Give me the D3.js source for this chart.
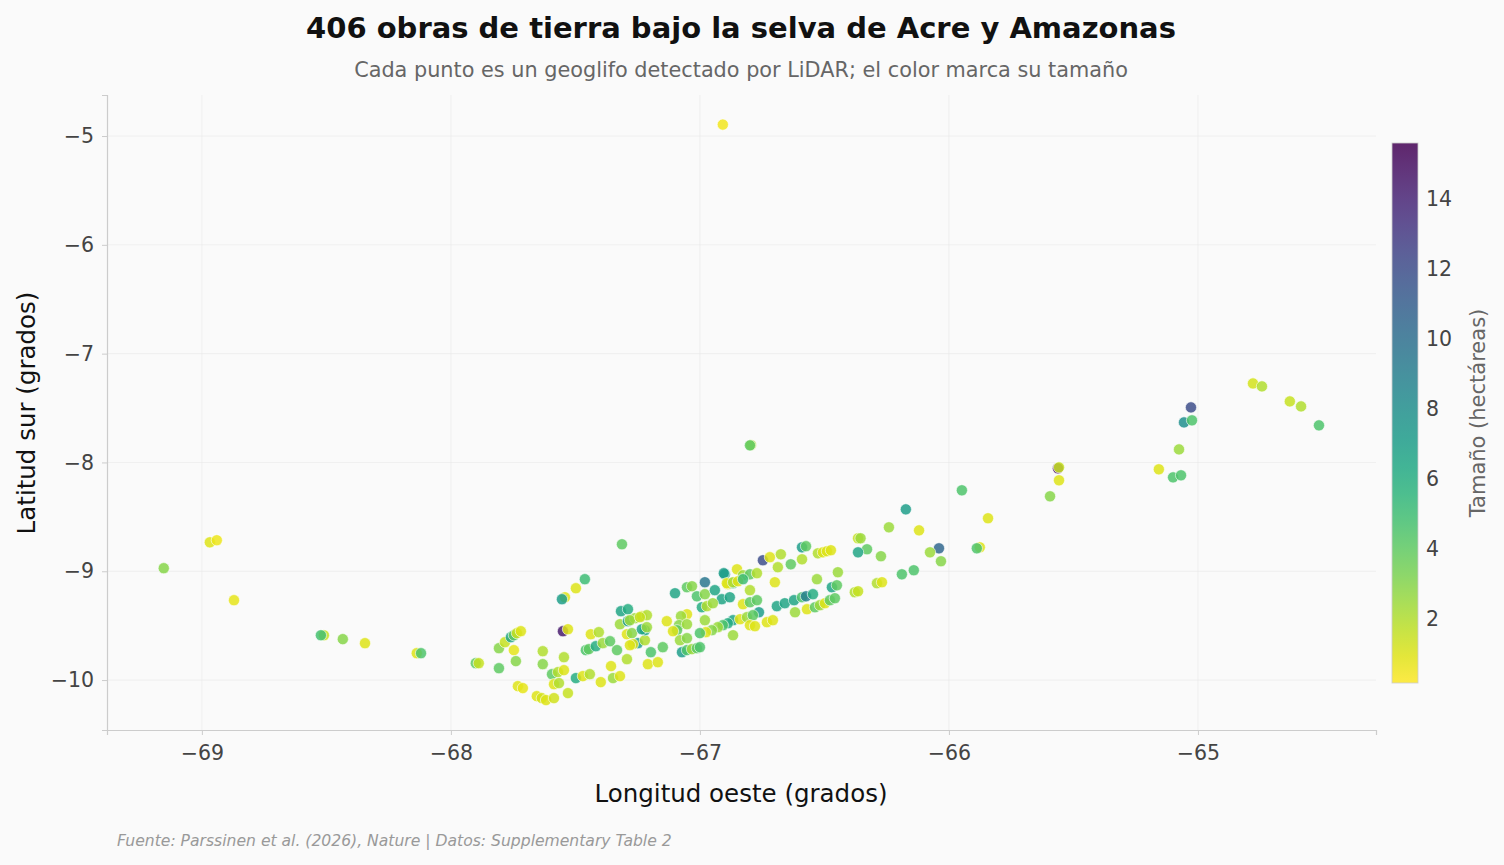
<!DOCTYPE html>
<html><head><meta charset="utf-8">
<script src="https://cdn.jsdelivr.net/npm/d3@7"></script>
<style>html,body{margin:0;padding:0;background:#fafafa;}svg{display:block;font-family:"DejaVu Sans",sans-serif;}</style>
</head><body><svg id="c" width="1504" height="865"></svg>
<script>
// Longitude (degrees), latitude (degrees), size (hectares) for each geoglyph, same order
const lon = [
-69.153,-68.968,-68.940,-68.871,-68.510,-68.522,-68.434,-68.345,-68.137,-68.120,
-67.900,-67.888,-67.807,-67.807,-67.747,-67.739,-67.783,-67.759,-67.747,-67.735,
-67.719,-67.731,-67.711,-67.655,-67.635,-67.618,-67.586,-67.631,-67.631,-67.462,
-67.498,-67.542,-67.554,-67.550,-67.530,-67.438,-67.406,-67.458,-67.446,-67.418,
-67.390,-67.361,-67.333,-67.293,-67.317,-67.289,-67.321,-67.289,-67.261,-67.233,
-67.213,-67.293,-67.273,-67.249,-67.221,-67.221,-67.546,-67.594,-67.570,-67.546,
-67.586,-67.566,-67.530,-67.498,-67.470,-67.442,-67.398,-67.357,-67.349,-67.321,
-67.209,-67.169,-67.100,-67.052,-67.032,-66.980,-67.012,-66.980,-66.940,-66.900,
-66.888,-66.867,-66.912,-66.880,-66.992,-66.972,-66.948,-66.980,-67.052,-67.076,
-67.133,-67.084,-67.052,-67.092,-67.108,-66.867,-66.888,-66.908,-66.928,-66.952,
-66.976,-67.000,-66.867,-67.080,-67.052,-67.072,-67.052,-67.032,-67.012,-67.000,
-67.149,-67.197,-67.281,-67.241,-67.269,-67.281,-67.233,-67.213,-66.590,-66.574,
-66.526,-66.506,-66.490,-66.474,-66.747,-66.719,-66.675,-66.590,-66.635,-66.687,
-66.851,-66.904,-66.827,-66.799,-66.771,-66.892,-66.867,-66.847,-66.827,-66.699,
-66.530,-66.446,-66.799,-66.827,-66.799,-66.771,-66.763,-66.691,-66.659,-66.622,
-66.590,-66.574,-66.546,-66.470,-66.450,-66.618,-66.570,-66.538,-66.518,-66.498,
-66.478,-66.458,-66.839,-66.811,-66.787,-66.731,-66.707,-66.799,-66.779,-66.241,
-66.365,-66.355,-66.329,-66.365,-66.273,-66.378,-66.365,-66.289,-66.269,-66.189,
-66.141,-65.948,-66.173,-65.843,-66.120,-66.040,-66.076,-66.032,-65.876,-65.888,
-64.779,-64.743,-64.631,-64.586,-64.514,-65.028,-65.056,-65.024,-65.076,-65.157,
-65.100,-65.068,-65.562,-65.558,-65.558,-65.594,-66.908,-66.795,-66.799,-67.313
];
const lat = [
-8.972,-8.734,-8.715,-9.266,-9.588,-9.588,-9.624,-9.661,-9.753,-9.753,
-9.845,-9.845,-9.707,-9.891,-9.725,-9.826,-9.652,-9.606,-9.588,-9.569,
-9.551,-10.056,-10.074,-10.148,-10.166,-10.184,-10.166,-9.735,-9.854,-9.073,
-9.156,-9.239,-9.257,-9.551,-9.533,-9.579,-9.560,-9.725,-9.716,-9.689,
-9.661,-9.643,-9.725,-9.808,-9.367,-9.349,-9.487,-9.459,-9.432,-9.413,
-9.404,-9.579,-9.569,-9.661,-9.634,-9.542,-9.790,-9.946,-9.927,-9.909,
-10.038,-10.028,-10.120,-9.982,-9.964,-9.946,-10.019,-9.872,-9.982,-9.964,
-9.854,-9.836,-9.202,-9.147,-9.138,-9.101,-9.230,-9.211,-9.174,-9.028,
-9.119,-9.110,-9.257,-9.239,-9.331,-9.321,-9.294,-9.450,-9.395,-9.413,
-9.459,-9.496,-9.487,-9.542,-9.551,-9.450,-9.478,-9.496,-9.514,-9.542,
-9.560,-9.569,-9.588,-9.634,-9.615,-9.744,-9.725,-9.716,-9.707,-9.698,
-9.698,-9.744,-9.450,-9.422,-9.670,-9.680,-9.533,-9.514,-8.780,-8.770,
-8.835,-8.826,-8.816,-8.807,-8.899,-8.871,-8.844,-8.890,-8.936,-8.963,
-8.982,-9.018,-9.037,-9.028,-9.018,-9.110,-9.101,-9.092,-9.073,-9.101,
-9.073,-9.009,-9.174,-9.303,-9.285,-9.266,-9.377,-9.321,-9.294,-9.266,
-9.239,-9.230,-9.211,-9.147,-9.129,-9.377,-9.349,-9.331,-9.312,-9.294,
-9.266,-9.248,-9.441,-9.422,-9.404,-9.468,-9.450,-9.496,-9.505,-8.596,
-8.697,-8.697,-8.798,-8.826,-8.862,-9.193,-9.184,-9.110,-9.101,-9.028,
-8.991,-8.256,-8.431,-8.513,-8.624,-8.789,-8.826,-8.908,-8.780,-8.789,
-7.274,-7.301,-7.439,-7.485,-7.659,-7.494,-7.632,-7.613,-7.880,-8.063,
-8.137,-8.118,-8.054,-8.045,-8.164,-8.311,-4.895,-7.840,-7.843,-8.752
];
const area = [
3.0,1.0,0.6,0.8,1.5,4.8,3.0,1.0,1.0,4.5,
4.0,1.5,3.0,4.0,0.8,3.0,1.5,6.5,4.0,1.5,
1.0,1.0,0.8,1.0,1.2,1.0,1.3,2.0,3.0,5.0,
1.0,1.0,7.0,14.5,1.0,1.0,2.0,4.5,4.0,6.0,
2.5,4.0,4.0,2.0,6.5,6.0,2.5,7.0,2.5,1.0,
2.0,1.0,3.0,7.0,2.0,6.5,2.0,4.0,2.0,1.0,
1.0,2.0,1.5,6.0,1.0,2.0,1.0,1.0,2.5,1.0,
1.0,1.0,6.5,4.0,3.0,9.5,4.5,3.0,6.5,7.0,
1.0,6.0,6.5,6.5,6.0,2.0,2.5,2.5,1.0,2.5,
1.0,3.0,2.5,4.0,1.0,6.5,6.0,4.5,2.5,3.0,
1.0,4.5,2.5,2.5,3.0,7.0,4.5,2.5,4.0,4.5,
4.0,4.5,2.5,1.5,1.0,1.0,6.5,2.5,7.0,4.0,
2.0,1.0,1.0,1.0,12.0,1.0,2.0,2.0,4.0,2.0,
1.0,7.0,2.5,4.0,2.0,1.0,2.0,1.0,5.0,1.0,
2.5,2.5,2.0,1.0,4.0,4.0,7.0,6.5,6.5,6.5,
4.5,9.0,6.0,6.5,4.0,2.5,1.0,4.0,2.5,1.0,
4.0,4.0,1.0,2.5,4.0,1.0,1.0,1.0,1.0,2.5,
1.5,2.5,4.0,6.5,3.0,2.0,1.5,2.0,1.0,4.5,
4.5,4.5,7.0,1.0,1.0,10.5,2.5,3.0,1.0,4.5,
1.2,2.0,1.5,2.0,4.5,12.0,8.0,4.5,2.5,1.0,
4.5,4.5,15.0,1.5,1.0,3.0,0.5,2.0,4.0,4.0
];
const xTicks = [-69, -68, -67, -66, -65];
const yTicks = [-5, -6, -7, -8, -9, -10];
const cTicks = [2, 4, 6, 8, 10, 12, 14];
const titleText = "406 obras de tierra bajo la selva de Acre y Amazonas";
const subtitleText = "Cada punto es un geoglifo detectado por LiDAR; el color marca su tamaño";
const xLabel = "Longitud oeste (grados)";
const yLabel = "Latitud sur (grados)";
const cLabel = "Tamaño (hectáreas)";
const sourceText = "Fuente: Parssinen et al. (2026), Nature | Datos: Supplementary Table 2";

const svg = d3.select("#c");
const W = 1504, H = 865;
const m = {l: 107, r: 1376, t: 95, b: 730};
svg.append("rect").attr("width", W).attr("height", H).attr("fill", "#fafafa");

const x = d3.scaleLinear().domain([-69.381, -64.285]).range([m.l, m.r]);
const y = d3.scaleLinear().domain([-4.623, -10.459]).range([m.t, m.b]);
const cmin = 0.17, cmax = 15.6;
const color = v => d3.interpolateViridis(1 - (v - cmin) / (cmax - cmin));

// grid
const g = svg.append("g");
g.selectAll(".gx").data(xTicks).join("line")
  .attr("x1", d => x(d)).attr("x2", d => x(d)).attr("y1", m.t).attr("y2", m.b)
  .attr("stroke", "#e6e6e6").attr("stroke-width", 0.8).attr("stroke-opacity", 0.7);
g.selectAll(".gy").data(yTicks).join("line")
  .attr("x1", m.l).attr("x2", m.r).attr("y1", d => y(d)).attr("y2", d => y(d))
  .attr("stroke", "#e6e6e6").attr("stroke-width", 0.8).attr("stroke-opacity", 0.7);

// axes
const fmt = d3.format("d");
const xAxis = svg.append("g").attr("transform", `translate(0,${m.b})`)
  .call(d3.axisBottom(x).tickValues(xTicks).tickFormat(d => fmt(d)).tickSize(5).tickPadding(10));
const yAxis = svg.append("g").attr("transform", `translate(${m.l},0)`)
  .call(d3.axisLeft(y).tickValues(yTicks).tickFormat(d => fmt(d)).tickSize(5).tickPadding(8));
[xAxis, yAxis].forEach(a => {
  a.select(".domain").attr("stroke", "#cccccc").attr("stroke-width", 1.2);
  a.selectAll(".tick line").attr("stroke", "#cccccc");
  a.selectAll(".tick text").attr("fill", "#444").attr("font-size", 20.5).attr("font-family", "DejaVu Sans");
});

// points
const idx = d3.range(lon.length);
svg.append("g").selectAll("circle").data(idx).join("circle")
  .attr("cx", i => x(lon[i])).attr("cy", i => y(lat[i])).attr("r", 5.6)
  .attr("fill", i => color(area[i])).attr("fill-opacity", 0.85)
  .attr("stroke", "#ffffff").attr("stroke-width", 0.6);

// titles
svg.append("text").attr("x", 741).attr("y", 38).attr("text-anchor", "middle")
  .attr("font-size", 29).attr("font-weight", "bold").attr("fill", "#111").text(titleText);
svg.append("text").attr("x", 741).attr("y", 77).attr("text-anchor", "middle")
  .attr("font-size", 20.8).attr("fill", "#666").text(subtitleText);
svg.append("text").attr("x", 741).attr("y", 802).attr("text-anchor", "middle")
  .attr("font-size", 24.5).attr("fill", "#111").text(xLabel);
svg.append("text").attr("transform", "translate(35,413) rotate(-90)").attr("text-anchor", "middle")
  .attr("font-size", 24.5).attr("fill", "#111").text(yLabel);
svg.append("text").attr("x", 117).attr("y", 846).attr("font-size", 15.6).attr("font-style", "italic")
  .attr("fill", "#999").text(sourceText);

// colorbar
const cb = {x: 1392, w: 26, t: 143, b: 683};
const cy = d3.scaleLinear().domain([cmin, cmax]).range([cb.b, cb.t]);
const defs = svg.append("defs");
const grad = defs.append("linearGradient").attr("id", "cbg").attr("x1", 0).attr("y1", 1).attr("x2", 0).attr("y2", 0);
d3.range(0, 1.0001, 0.05).forEach(t => {
  grad.append("stop").attr("offset", t).attr("stop-color", color(cmin + t * (cmax - cmin)));
});
svg.append("rect").attr("x", cb.x).attr("y", cb.t).attr("width", cb.w).attr("height", cb.b - cb.t)
  .attr("fill", "url(#cbg)").attr("fill-opacity", 0.85);
svg.append("rect").attr("x", cb.x).attr("y", cb.t).attr("width", cb.w).attr("height", cb.b - cb.t)
  .attr("fill", "none").attr("stroke", "#cccccc").attr("stroke-width", 0.8);
const cAxis = svg.append("g").attr("transform", `translate(${cb.x + cb.w},0)`)
  .call(d3.axisRight(cy).tickValues(cTicks).tickSize(0).tickPadding(8));
cAxis.select(".domain").remove();
cAxis.selectAll(".tick text").attr("fill", "#444").attr("font-size", 20.5).attr("font-family", "DejaVu Sans");
svg.append("text").attr("transform", "translate(1485,413) rotate(-90)").attr("text-anchor", "middle")
  .attr("font-size", 21).attr("fill", "#666").text(cLabel);
</script></body></html>
